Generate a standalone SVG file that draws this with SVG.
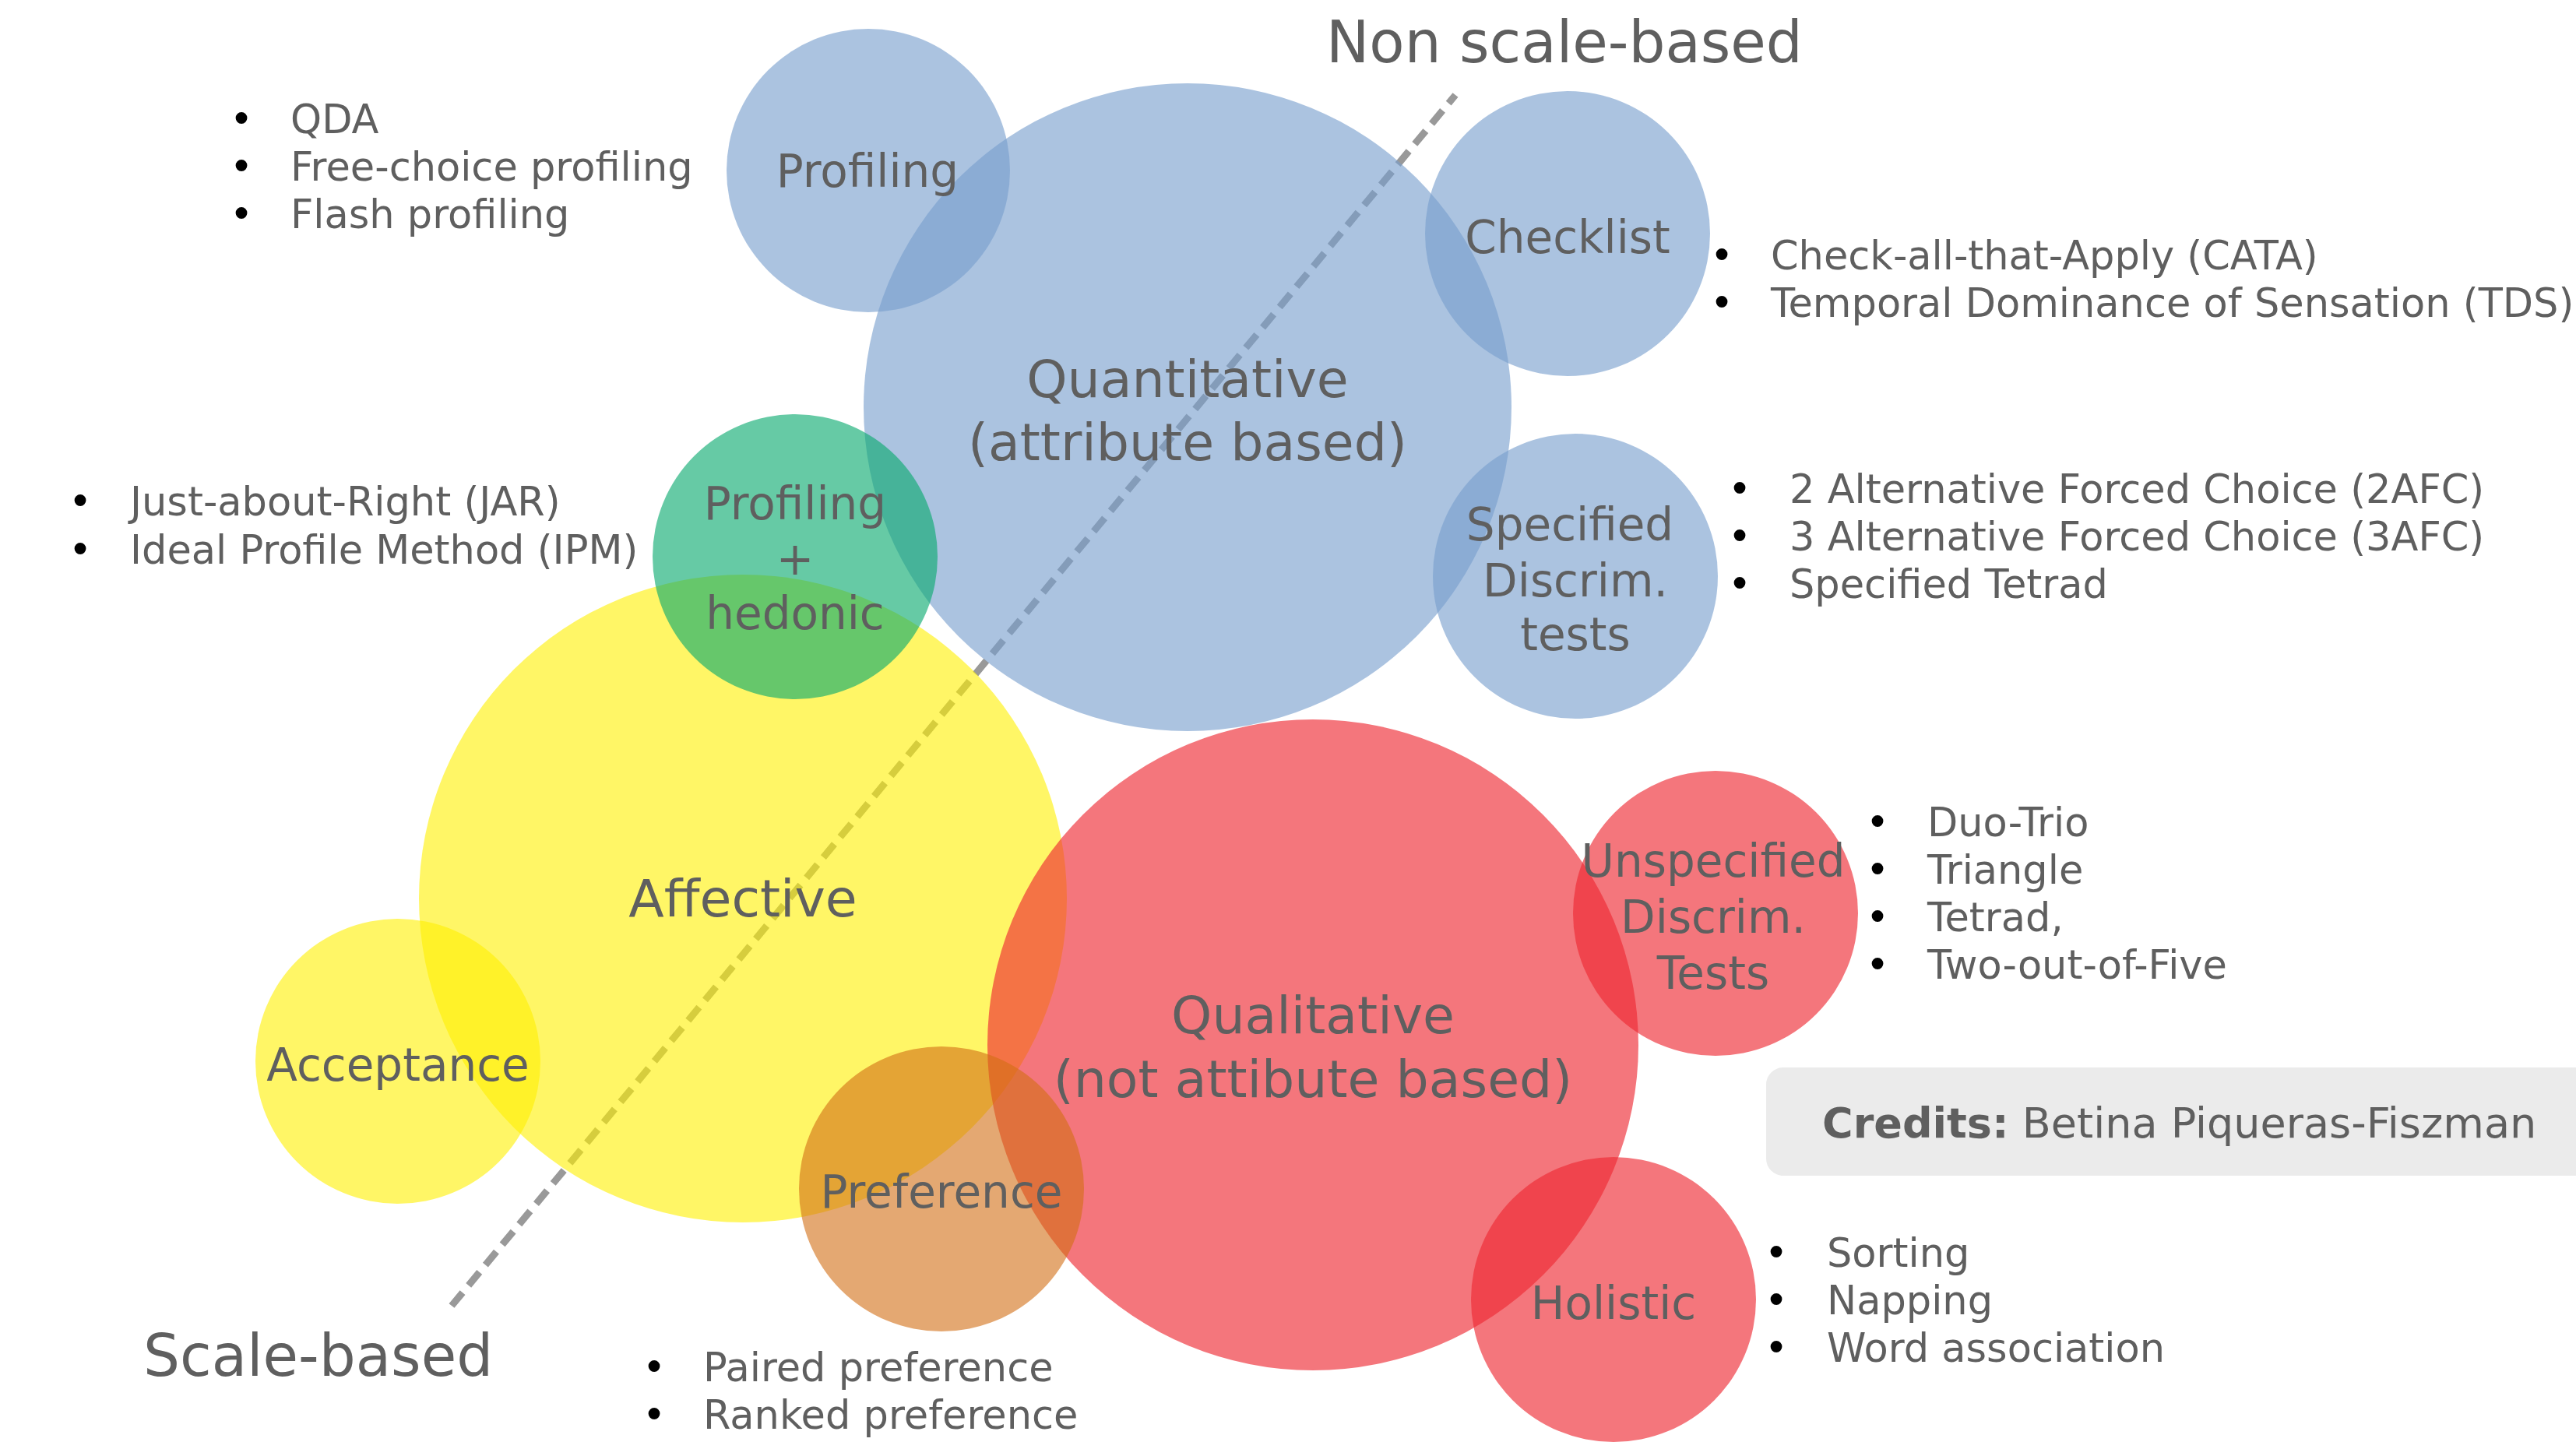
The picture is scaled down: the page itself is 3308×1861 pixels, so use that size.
<svg xmlns="http://www.w3.org/2000/svg" width="3308" height="1861" viewBox="0 0 3308 1861">
<style>
.bg{fill:#ffffff}
.blue{fill:rgb(120,158,205);fill-opacity:0.62}
.yellow{fill:rgb(255,240,0);fill-opacity:0.6}
.red{fill:rgb(238,40,50);fill-opacity:0.64}
.green{fill:rgb(8,170,110);fill-opacity:0.62}
.orange{fill:rgb(210,110,20);fill-opacity:0.6}
.lbl{font-family:"DejaVu Sans","Liberation Sans",sans-serif;fill:#5f5f5f;text-anchor:middle}
.big{font-size:66.5px}
.mid{font-size:58px}
.item{font-family:"DejaVu Sans","Liberation Sans",sans-serif;font-size:51px;fill:#5f5f5f}
.bul{font-family:"DejaVu Sans","Liberation Sans",sans-serif;font-size:51px;fill:#000;text-anchor:middle}
.axis{font-family:"DejaVu Sans","Liberation Sans",sans-serif;font-size:74px;fill:#5f5f5f}
.divider{stroke:#999999;stroke-width:9;stroke-dasharray:22 12;fill:none}
</style>
<rect class="bg" x="0" y="0" width="3308" height="1861"/>

<g id="connectors">
  <line class="divider" x1="580" y1="1677" x2="1869" y2="122"/>
</g>

<g id="quantitative">
  <circle class="blue" cx="1525" cy="523" r="416"/>
</g>
<g id="profiling">
  <circle class="blue" cx="1115" cy="219" r="182"/>
</g>
<g id="checklist">
  <circle class="blue" cx="2013" cy="300" r="183"/>
</g>
<g id="specified">
  <circle class="blue" cx="2023" cy="740" r="183"/>
</g>
<g id="affective">
  <circle class="yellow" cx="954" cy="1154" r="416"/>
</g>
<g id="acceptance">
  <circle class="yellow" cx="511" cy="1363" r="183"/>
</g>
<g id="qualitative">
  <circle class="red" cx="1686" cy="1342" r="418"/>
</g>
<g id="unspecified">
  <circle class="red" cx="2203" cy="1173" r="183"/>
</g>
<g id="holistic">
  <circle class="red" cx="2072" cy="1669" r="183"/>
</g>
<g id="profiling-hedonic">
  <circle class="green" cx="1021" cy="715" r="183"/>
</g>
<g id="preference">
  <circle class="orange" cx="1209" cy="1527" r="183"/>
</g>

<g id="labels">
  <text class="lbl mid" x="1114" y="240">Profiling</text>
  <text class="lbl mid" x="2013" y="325">Checklist</text>
  <text class="lbl big" x="1525" y="510">Quantitative</text>
  <text class="lbl big" x="1525" y="591">(attribute based)</text>
  <text class="lbl mid" x="2016" y="694">Specified</text>
  <text class="lbl mid" x="2023" y="766">Discrim.</text>
  <text class="lbl mid" x="2023" y="835">tests</text>
  <text class="lbl mid" x="1021" y="667">Profiling</text>
  <text class="lbl mid" x="1021" y="738">+</text>
  <text class="lbl mid" x="1021" y="808">hedonic</text>
  <text class="lbl big" x="954" y="1177">Affective</text>
  <text class="lbl mid" x="511" y="1388">Acceptance</text>
  <text class="lbl big" x="1686" y="1327">Qualitative</text>
  <text class="lbl big" x="1686" y="1409">(not attibute based)</text>
  <text class="lbl mid" x="2200" y="1126">Unspecified</text>
  <text class="lbl mid" x="2200" y="1198">Discrim.</text>
  <text class="lbl mid" x="2200" y="1270">Tests</text>
  <text class="lbl mid" x="1209" y="1551">Preference</text>
  <text class="lbl mid" x="2072" y="1694">Holistic</text>
</g>

<g id="axis-labels">
  <text class="axis" x="1703" y="80">Non scale-based</text>
  <text class="axis" x="184" y="1767">Scale-based</text>
</g>

<g id="list-profiling">
  <text class="bul" x="310" y="171">•</text><text class="item" x="373" y="171">QDA</text>
  <text class="bul" x="310" y="232">•</text><text class="item" x="373" y="232">Free-choice profiling</text>
  <text class="bul" x="310" y="293">•</text><text class="item" x="373" y="293">Flash profiling</text>
</g>
<g id="list-checklist">
  <text class="bul" x="2211" y="346">•</text><text class="item" x="2274" y="346">Check-all-that-Apply (CATA)</text>
  <text class="bul" x="2211" y="407">•</text><text class="item" x="2274" y="407">Temporal Dominance of Sensation (TDS)</text>
</g>
<g id="list-hedonic">
  <text class="bul" x="103" y="662">•</text><text class="item" x="167" y="662">Just-about-Right (JAR)</text>
  <text class="bul" x="103" y="724">•</text><text class="item" x="167" y="724">Ideal Profile Method (IPM)</text>
</g>
<g id="list-specified">
  <text class="bul" x="2234" y="646">•</text><text class="item" x="2298" y="646">2 Alternative Forced Choice (2AFC)</text>
  <text class="bul" x="2234" y="707">•</text><text class="item" x="2298" y="707">3 Alternative Forced Choice (3AFC)</text>
  <text class="bul" x="2234" y="768">•</text><text class="item" x="2298" y="768">Specified Tetrad</text>
</g>
<g id="list-unspecified">
  <text class="bul" x="2411" y="1074">•</text><text class="item" x="2475" y="1074">Duo-Trio</text>
  <text class="bul" x="2411" y="1135">•</text><text class="item" x="2475" y="1135">Triangle</text>
  <text class="bul" x="2411" y="1196">•</text><text class="item" x="2475" y="1196">Tetrad,</text>
  <text class="bul" x="2411" y="1257">•</text><text class="item" x="2475" y="1257">Two-out-of-Five</text>
</g>
<g id="list-holistic">
  <text class="bul" x="2281" y="1627">•</text><text class="item" x="2346" y="1627">Sorting</text>
  <text class="bul" x="2281" y="1688">•</text><text class="item" x="2346" y="1688">Napping</text>
  <text class="bul" x="2281" y="1749">•</text><text class="item" x="2346" y="1749">Word association</text>
</g>
<g id="list-preference">
  <text class="bul" x="840" y="1774">•</text><text class="item" x="903" y="1774">Paired preference</text>
  <text class="bul" x="840" y="1835">•</text><text class="item" x="903" y="1835">Ranked preference</text>
</g>

<g id="credits">
  <rect x="2268" y="1371" width="1100" height="139" rx="22" fill="#ebebeb"/>
  <text class="item" x="2340" y="1461" style="font-size:54px"><tspan font-weight="bold">Credits:</tspan> Betina Piqueras-Fiszman</text>
</g>
</svg>
